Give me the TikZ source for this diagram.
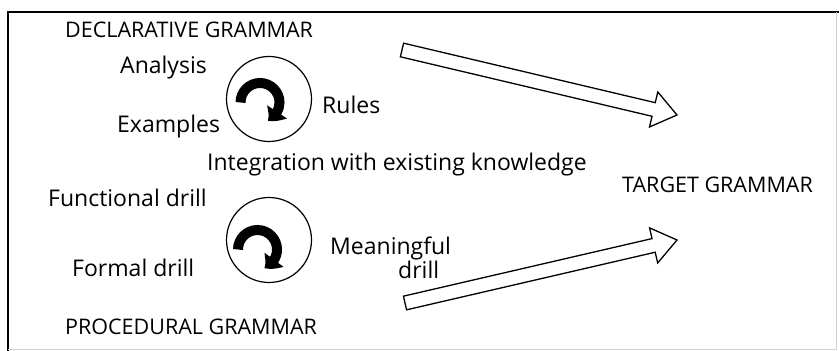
\documentclass[tikz,border=0pt]{standalone}
\usepackage{fontspec}
\setmainfont{Open Sans}
\usetikzlibrary{calc,arrows.meta,bending}
\begin{document}
\begin{tikzpicture}[x=1pt,y=1pt,
  lbl/.style={inner sep=0pt, anchor=base west, font=\fontsize{23}{25}\selectfont},
  caps/.style={inner sep=0pt, anchor=base west, font=\fontsize{21.5}{23}\selectfont},
  wheel/.style={circle, draw, line width=1.2pt, minimum size=85pt, inner sep=0pt},
  turn/.style={line width=10pt, -{Triangle[length=13pt,width=23pt,bend]}},
  blockarrow/.style={draw, line width=1.3pt, fill=white, line join=miter}]
\useasboundingbox (0,0) rectangle (839,351);
\fill[white] (0,0) rectangle (839,351);

% frame
\draw[line width=2.5pt] (839,339) -- (8,339) -- (8,0);
\draw[black!18, line width=0.8pt] (836,339) -- (836,2) -- (8,2);

% block arrow from tail #1 to tip #2
\newcommand\blockarrowpath[3]{%
  \coordinate (#3) at ($(#2)!24pt!(#1)$);
  \draw[blockarrow]
    ($(#1)!7pt!90:(#2)$) -- ($(#3)!7pt!-90:(#1)$) -- ($(#3)!18pt!-90:(#1)$)
    -- (#2) -- ($(#3)!18pt!90:(#1)$) -- ($(#3)!7pt!90:(#1)$)
    -- ($(#1)!7pt!-90:(#2)$) -- cycle;}

% declarative cycle
\node[caps] (decl) at (65,313) {DECLARATIVE GRAMMAR};
\node[wheel] (w1) at (269,252) {};
\draw[turn] ($(w1.center)+(-9,-3.5)$) ++(180:19.5) arc (180:-67:19.5);
\node[lbl] (analysis) at (120,277) {Analysis};
\node[lbl] (examples) at (117,218) {Examples};
\node[lbl] (rules) at (322,237) {Rules};

\node[lbl] (integ) at (207,180) {Integration with existing knowledge};

% procedural cycle
\node[lbl] (func) at (48,144) {Functional drill};
\node[wheel] (w2) at (269,111) {};
\draw[turn] ($(w2.center)+(-11.5,-9.5)$) ++(180:19.5) arc (180:-70:19.5);
\node[lbl] (formal) at (72,74) {Formal drill};
\node[lbl] (mean1) at (330,96) {Meaningful};
\node[lbl] (mean2) at (398,72.5) {drill};
\node[caps] (proc) at (65,16) {PROCEDURAL GRAMMAR};

\node[caps] (target) at (622,158) {TARGET GRAMMAR};

% arrows towards the target grammar
\coordinate (t1) at (402,301);
\coordinate (p1) at (677,236);
\coordinate (t2) at (405,48);
\coordinate (p2) at (677,111);
\blockarrowpath{t1}{p1}{h1}
\blockarrowpath{t2}{p2}{h2}
\end{tikzpicture}
\end{document}
